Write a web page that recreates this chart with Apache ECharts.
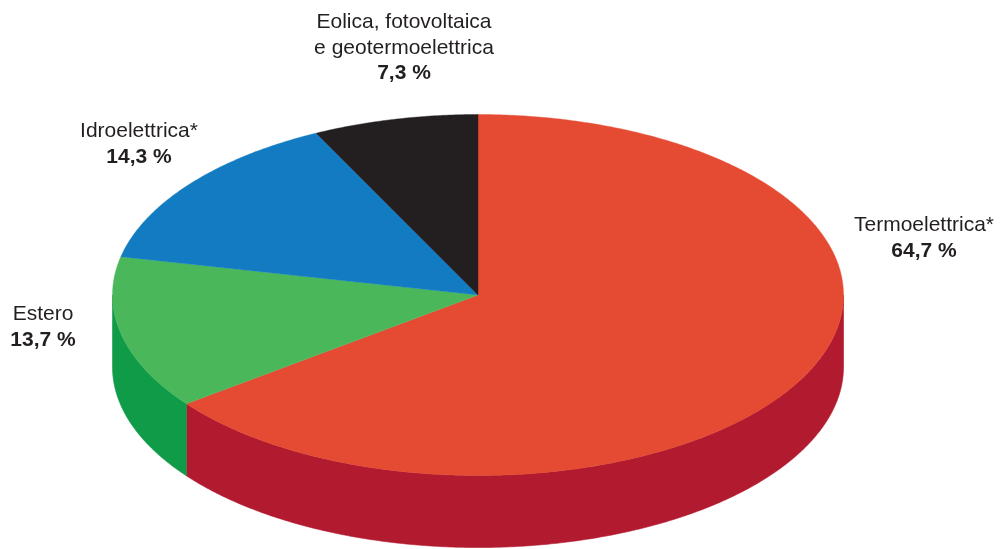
<!DOCTYPE html>
<html>
<head>
<meta charset="utf-8">
<title>Produzione di energia elettrica per fonte</title>
<script src="https://cdn.jsdelivr.net/npm/echarts@6/dist/echarts.min.js"></script>
<style>
  html, body { margin: 0; padding: 0; background: #ffffff; }
  #chart { width: 1003px; height: 549px; }
</style>
</head>
<body>
<div id="chart"></div>
<script>
// Sources, clockwise from 12 o'clock
const categoryLines = [
  ['Termoelettrica*'],
  ['Estero'],
  ['Idroelettrica*'],
  ['Eolica, fotovoltaica', 'e geotermoelettrica']
];
const shares = [64.7, 13.7, 14.3, 7.3];

// Colours: top face and visible rim of each slice
const topColors  = ['#E54B33', '#4AB85A', '#137BC1', '#231F20'];
const sideColors = ['#B21A2F', '#109B48', '#0D5E96', '#111011'];

// Disc geometry (pixels)
const disc = { cx: 478, cy: 295, rx: 365.5, ry: 180.5, depth: 72 };

// Where each label block is centred
const labelAnchors = [
  { x: 924, y: 238 },
  { x: 43,  y: 327 },
  { x: 139, y: 144 },
  { x: 404, y: 48 }
];

const total = shares.reduce((a, b) => a + b, 0);
const startAngles = [];
shares.reduce((acc, v) => { startAngles.push(acc / total * 360); return acc + v; }, 0);

function pt(deg, dy) {
  const r = deg * Math.PI / 180;
  return [disc.cx + disc.rx * Math.sin(r), disc.cy - disc.ry * Math.cos(r) + (dy || 0)];
}

function arc(a, b, dy) {
  const pts = [];
  const n = Math.max(2, Math.ceil(Math.abs(b - a) / 0.5));
  for (let i = 0; i <= n; i++) pts.push(pt(a + (b - a) * i / n, dy));
  return pts;
}

function fmt(v) {
  return v.toFixed(1).replace('.', ',') + ' %';
}

function renderItem(params, api) {
  const i = params.dataIndex;
  const v = api.value(0);
  const a = startAngles[i];
  const b = a + v / total * 360;
  const children = [];

  // front rim: only the part facing the viewer (90°..270°)
  const s = Math.max(a, 90), e = Math.min(b, 270);
  if (s < e) {
    const pts = arc(s, e, 0).concat(arc(e, s, disc.depth));
    children.push({
      type: 'polygon', z2: 1,
      shape: { points: pts },
      style: { fill: sideColors[i], stroke: sideColors[i], lineWidth: 0.6 }
    });
  }

  // top face
  const top = [[disc.cx, disc.cy]].concat(arc(a, b, 0));
  children.push({
    type: 'polygon', z2: 5,
    shape: { points: top },
    style: { fill: topColors[i], stroke: topColors[i], lineWidth: 0.4 }
  });

  // label
  const nameText = categoryLines[i].map(l => '{n|' + l + '}').join('\n');
  children.push({
    type: 'text', z2: 10,
    style: {
      x: labelAnchors[i].x, y: labelAnchors[i].y,
      text: nameText + '\n{b|' + fmt(v) + '}',
      align: 'center', verticalAlign: 'middle',
      rich: {
        n: { fontSize: 21, lineHeight: 25.5, fontFamily: '"Liberation Sans", Arial, sans-serif', fill: '#231F20', align: 'center' },
        b: { fontSize: 21, lineHeight: 25.5, fontWeight: 'bold', fontFamily: '"Liberation Sans", Arial, sans-serif', fill: '#231F20', align: 'center' }
      }
    }
  });

  return { type: 'group', children };
}

const chart = echarts.init(document.getElementById('chart'), null, { renderer: 'canvas' });
chart.setOption({
  backgroundColor: '#ffffff',
  animation: false,
  series: [{
    type: 'custom',
    coordinateSystem: 'none',
    renderItem,
    data: shares.map((v, i) => ({ name: categoryLines[i].join(' '), value: [v] }))
  }]
});
</script>
</body>
</html>
